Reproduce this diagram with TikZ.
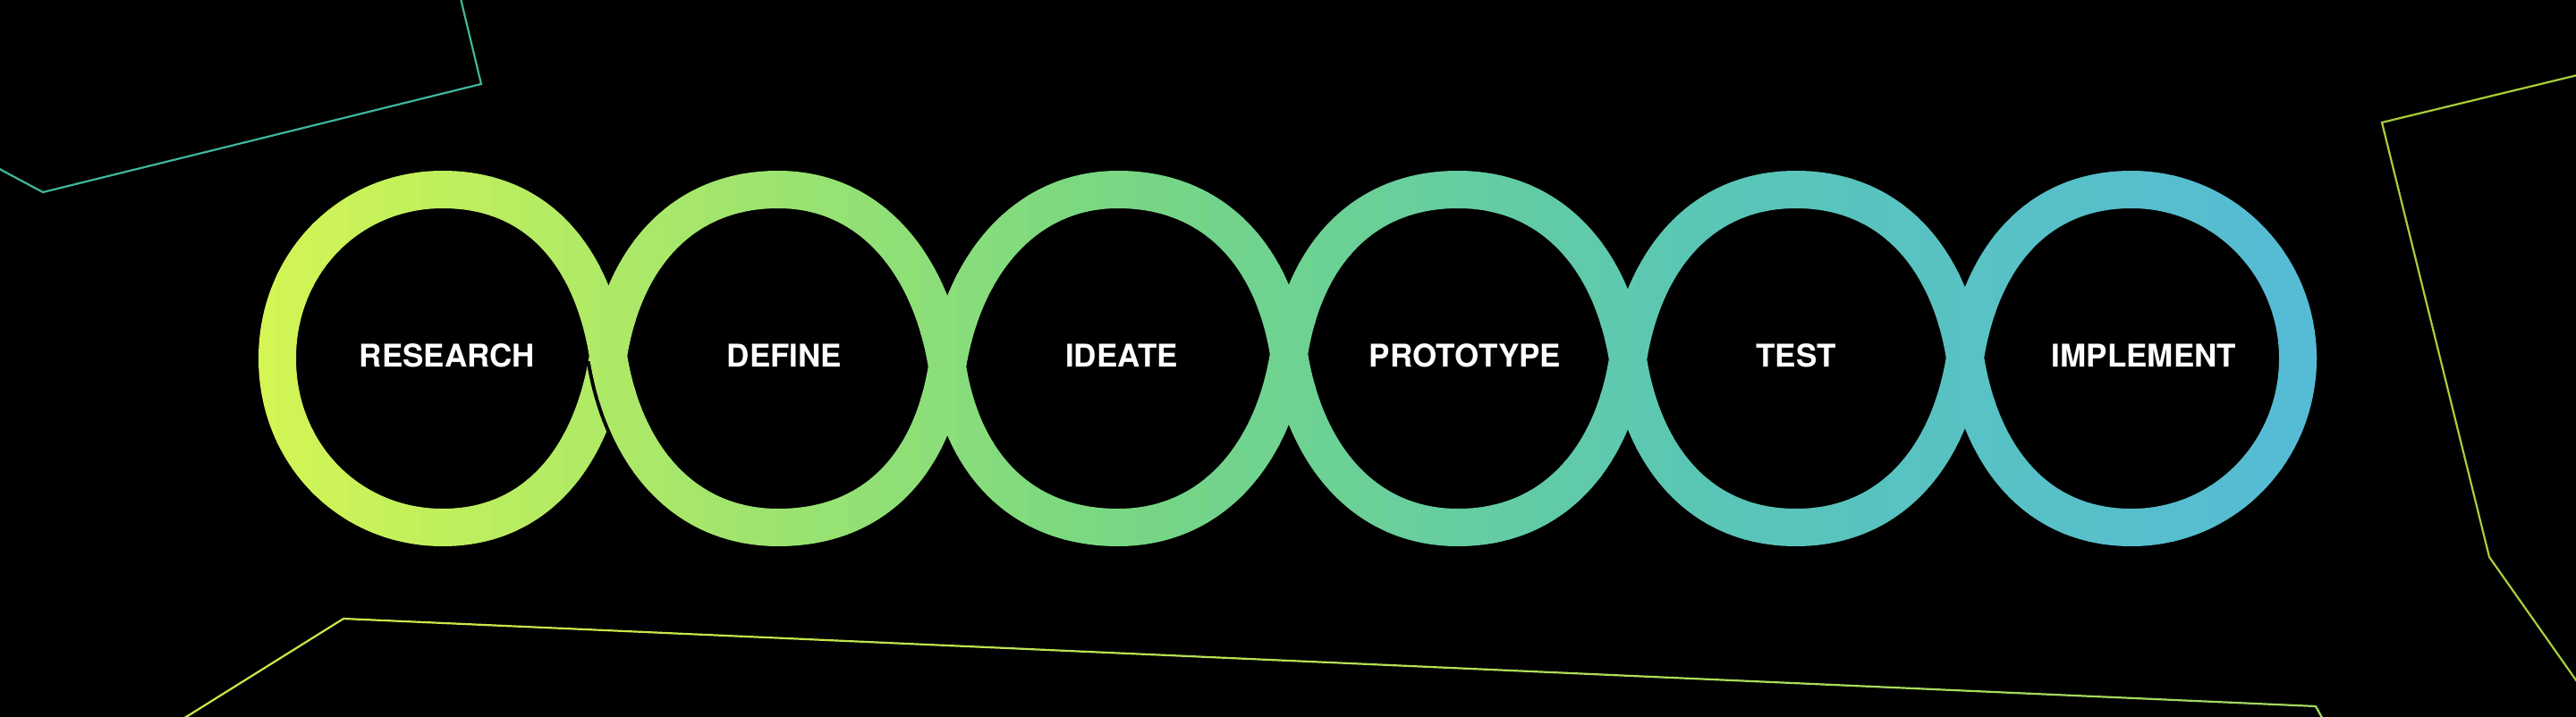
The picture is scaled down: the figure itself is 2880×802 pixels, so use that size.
\documentclass[tikz,border=0pt]{standalone}
\usepackage{fontspec}
\usetikzlibrary{calc}
\setmainfont{TeX Gyre Heros}
\definecolor{tealline}{RGB}{64,182,155}
\definecolor{limeline}{RGB}{168,206,58}
\definecolor{bottomA}{RGB}{205,233,70}
\definecolor{bottomB}{RGB}{158,216,96}
\definecolor{haloblack}{RGB}{0,0,0}
% loop centre lines (image coordinates, y downwards)
\newcommand\loopRes{(495,212) .. controls (599,212) and (662,284) .. (680,398) .. controls (662,512) and (599,590) .. (495,590) .. controls (391,590) and (310,508) .. (310,401) .. controls (310,294) and (391,212) .. cycle}
\newcommand\loopRest{%
(870,212) .. controls (974,212) and (1041,296) .. (1059,410) .. controls (1041,524) and (974,590) .. (870,590) .. controls (766,590) and (698,512) .. (680,398) .. controls (698,284) and (766,212) .. cycle
(1250,212) .. controls (1354,212) and (1423,282) .. (1441,396) .. controls (1423,510) and (1354,590) .. (1250,590) .. controls (1146,590) and (1077,524) .. (1059,410) .. controls (1077,296) and (1146,212) .. cycle
(1630,212) .. controls (1734,212) and (1802,288) .. (1820,402) .. controls (1802,516) and (1734,590) .. (1630,590) .. controls (1526,590) and (1459,510) .. (1441,396) .. controls (1459,282) and (1526,212) .. cycle
(2008,212) .. controls (2112,212) and (2179,286) .. (2197,400) .. controls (2179,514) and (2112,590) .. (2008,590) .. controls (1904,590) and (1838,516) .. (1820,402) .. controls (1838,288) and (1904,212) .. cycle
(2383,212) .. controls (2487,212) and (2569,297) .. (2569,401) .. controls (2569,505) and (2487,590) .. (2383,590) .. controls (2279,590) and (2215,514) .. (2197,400) .. controls (2215,286) and (2279,212) .. cycle}
\newcommand\gradstroke[2]{%
  \foreach \s in {0,...,59}{%
    \pgfmathsetmacro{\xa}{270+40*\s}%
    \pgfmathsetmacro{\xm}{\xa+20}%
    \pgfmathsetmacro{\ta}{min(max((\xm-290)/960,0),1)}%
    \pgfmathsetmacro{\tb}{min(max((\xm-1250)/650,0),1)}%
    \pgfmathsetmacro{\tc}{min(max((\xm-1900)/690,0),1)}%
    \pgfmathtruncatemacro{\cr}{212-92*\ta-30*\tb-4*\tc}%
    \pgfmathtruncatemacro{\cg}{246-30*\ta-17*\tb-11*\tc}%
    \pgfmathtruncatemacro{\cb}{84+47*\ta+51*\tb+32*\tc}%
    \definecolor{slc}{RGB}{\cr,\cg,\cb}%
    \begin{scope}
      \clip (\xa-0.6,150) rectangle (\xa+40.6,650);
      \draw[band, slc, #1] #2;
    \end{scope}
  }}
\begin{document}
\begin{tikzpicture}[x=1pt,y=-1pt,
  band/.style={line width=42pt, line join=miter},
  lbl/.style={text=white, font=\fontsize{35}{40}\selectfont\bfseries, inner sep=0pt},
  deco/.style={line width=2.2pt, line join=miter}]
\fill[black] (0,0) rectangle (2880,802);
\useasboundingbox (0,0) rectangle (2880,802);
\begin{scope}
  \clip (0,0) rectangle (2880,802);
  \draw[deco, tealline] (-10,184) -- (48,215) -- (538,94) -- (513,-10);
  \draw[deco, limeline] (2890,82) -- (2663,137) -- (2783,623) -- (2890,775);
  \coordinate (bl0) at (192,812);
  \coordinate (bl1) at (384,692);
  \coordinate (bl2) at (2589,790);
  \coordinate (bl3) at (2600,810);
  \draw[deco, bottomA] (bl0) -- (bl1);
  \foreach \i in {0,...,11}{%
    \pgfmathsetmacro{\pp}{100*(\i+0.5)/12}%
    \draw[deco, line cap=round, bottomB!\pp!bottomA] ($(bl1)!{\i/12}!(bl2)$) -- ($(bl1)!{(\i+1)/12}!(bl2)$);
  }
  \draw[deco, bottomB] (bl2) -- (bl3);
\end{scope}
% research loop first
\gradstroke{line join=round}{\loopRes}
% gap where the band crosses over at the first junction
\begin{scope}
  \clip (600,404) rectangle (760,540);
  \draw[line width=50pt, haloblack] (680,398) .. controls (698,512) and (766,590) .. (870,590);
\end{scope}
% the other loops
\gradstroke{line join=miter}{\loopRest}
% labels
\node[lbl] (research)  at (500,398)  {RESEARCH};
\node[lbl] (define)    at (877,398)  {DEFINE};
\node[lbl] (ideate)    at (1254,398) {IDEATE};
\node[lbl] (prototype) at (1638,398) {PROTOTYPE};
\node[lbl] (test)      at (2008,398) {TEST};
\node[lbl] (implement) at (2397,398) {IMPLEMENT};
\end{tikzpicture}
\end{document}
